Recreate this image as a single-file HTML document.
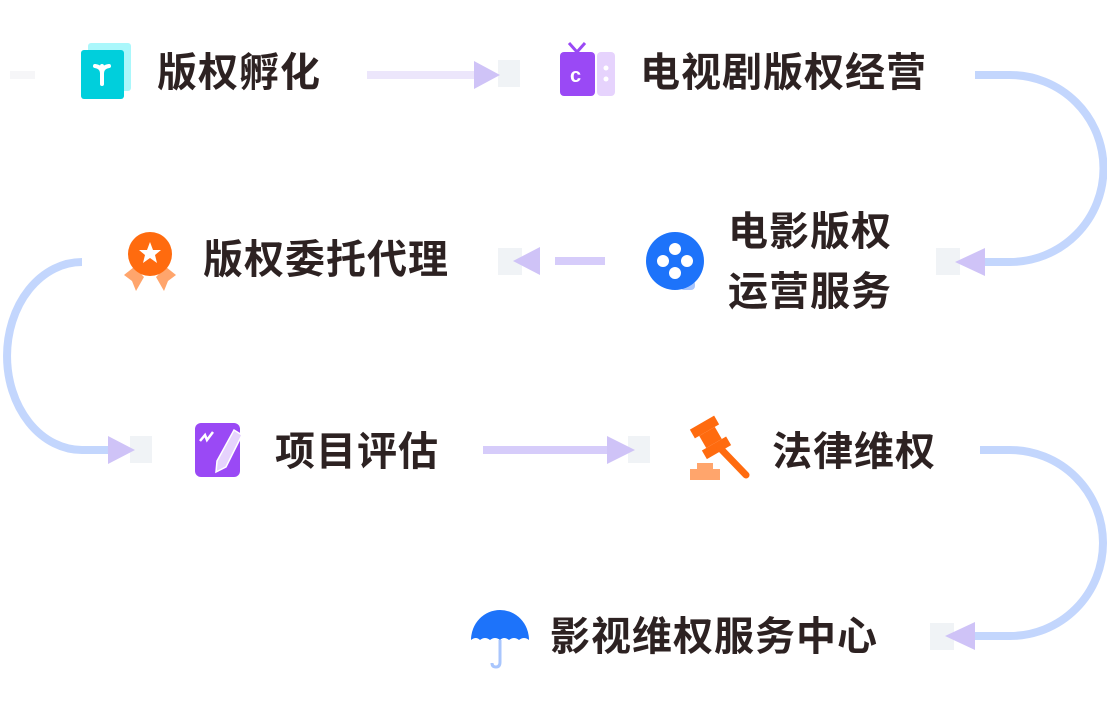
<!DOCTYPE html>
<html><head><meta charset="utf-8"><style>
body{margin:0;width:1107px;height:711px;background:#fff;position:relative;overflow:hidden;font-family:"Liberation Sans","Noto Sans CJK SC",sans-serif;}
.t{position:absolute;font-size:40px;font-weight:bold;color:#2d2222;line-height:1;white-space:nowrap;letter-spacing:1px}
svg{position:absolute;left:0;top:0}
</style></head><body>
<svg width="1107" height="711">
<!-- gray squares -->
<g fill="#f0f3f6">
<rect x="498" y="60" width="22" height="27"/>
<rect x="936" y="248" width="24" height="27"/>
<rect x="498" y="248" width="24" height="27"/>
<rect x="130" y="436" width="22" height="27"/>
<rect x="628" y="436" width="22" height="27"/>
<rect x="930" y="623" width="24" height="27"/>
</g>
<rect x="10" y="71" width="25" height="8" fill="#f6f6f8"/>
<!-- straight arrows -->
<line x1="367" y1="75" x2="478" y2="75" stroke="#ece6fb" stroke-width="8"/>
<polygon points="474,61 500,75 474,89" fill="#cfc3f7"/>
<line x1="555" y1="261" x2="605" y2="261" stroke="#d6ccfa" stroke-width="8"/>
<polygon points="540,247 513,261 540,275" fill="#cfc3f7"/>
<line x1="483" y1="450" x2="610" y2="450" stroke="#d6ccfa" stroke-width="8"/>
<polygon points="607,436 635,450 607,464" fill="#cfc3f7"/>
<!-- curves -->
<g fill="none" stroke="#c3d6fd" stroke-width="8">
<path d="M975,75 H1010 A93,93 0 0 1 1010,262 H980"/>
<path d="M82,262 A75,94 0 0 0 82,450 H110"/>
<path d="M980,450 H1010 A93,93 0 0 1 1010,636 H972"/>
</g>
<polygon points="985,248 955,262 985,276" fill="#cfc3f7"/>
<polygon points="108,436 135,450 108,464" fill="#cfc3f7"/>
<polygon points="975,622 945,636 975,650" fill="#cfc3f7"/>
<!-- icon1 -->
<rect x="88" y="43" width="43" height="48" rx="3" fill="#aaf7fb"/>
<rect x="81" y="50" width="43" height="49" rx="3" fill="#00cfdc"/>
<path d="M102,66 v18 M95,66 q7,1 7,7 q0-6 7-7" stroke="#fff" stroke-width="4" fill="none" stroke-linecap="round"/>
<!-- tv icon -->
<rect x="560" y="52" width="35" height="44" rx="4" fill="#9a49f5"/>
<rect x="597" y="52" width="18" height="44" rx="4" fill="#e6d3fd"/>
<path d="M577,52 l-8,-9 M577,52 l8,-9" stroke="#9a49f5" stroke-width="3"/>
<text x="570" y="82" font-size="20" font-weight="bold" fill="#fff" font-family="Liberation Sans">c</text>
<circle cx="606" cy="68" r="2.5" fill="#fff"/><circle cx="606" cy="79" r="2.5" fill="#fff"/>
<!-- film -->
<rect x="680" y="280" width="15" height="10" rx="4" fill="#a9c6fd"/>
<circle cx="675" cy="261" r="29" fill="#1d73fa"/>
<g fill="#fff"><circle cx="675" cy="249" r="6"/><circle cx="675" cy="273" r="6"/><circle cx="663" cy="261" r="6"/><circle cx="687" cy="261" r="6"/></g>
<!-- medal -->
<path d="M124,275 l10,-8 l10,10 l-8,14 l-4,-10 z M176,275 l-10,-8 l-10,10 l8,14 l4,-10 z" fill="#ffa56c"/>
<circle cx="150" cy="254" r="22" fill="#ff6b0f"/>
<polygon points="150,242 153,250 161,250 155,255 157,263 150,258 143,263 145,255 139,250 147,250" fill="#fff"/>
<!-- note -->
<rect x="195" y="423" width="45" height="54" rx="6" fill="#9a49f5"/>
<path d="M234,430 l8,5 l-16,32 l-10,5 l1,-11 z" fill="#e6d3fd" stroke="#fff" stroke-width="1.5"/>
<path d="M200,441 l5,-6 l2,5 l6,-8" stroke="#fff" stroke-width="2.5" fill="none"/>
<!-- gavel -->
<rect x="690" y="469" width="30" height="11" fill="#ffa56c"/>
<rect x="697" y="463" width="16" height="7" fill="#ffa56c"/>
<g transform="rotate(-30 712 440)">
<rect x="698" y="420" width="28" height="10" fill="#ff6b0f"/>
<rect x="698" y="444" width="28" height="10" fill="#ff6b0f"/>
<rect x="703" y="430" width="18" height="14" fill="#ff6b0f"/>
</g>
<line x1="720" y1="448" x2="746" y2="475" stroke="#ff6b0f" stroke-width="7" stroke-linecap="round"/>
<!-- umbrella -->
<path d="M471,640 A29,30 0 0 1 529,640 q-5,-4 -10,0 q-5,-4 -10,0 q-5,-4 -9,0 q-5,-4 -10,0 q-5,-4 -10,0 q-4,-4 -9,0 z" fill="#1d73fa"/>
<path d="M500,640 v22 q0,5 -4,5 q-4,0 -4,-4" stroke="#a9c6fd" stroke-width="3" fill="none"/>
</svg>
<div class="t" style="left:157px;top:53px">版权孵化</div>
<div class="t" style="left:640px;top:53px">电视剧版权经营</div>
<div class="t" style="left:728px;top:212px">电影版权</div>
<div class="t" style="left:728px;top:272px">运营服务</div>
<div class="t" style="left:203px;top:240px">版权委托代理</div>
<div class="t" style="left:275px;top:432px">项目评估</div>
<div class="t" style="left:772px;top:432px">法律维权</div>
<div class="t" style="left:550px;top:617px">影视维权服务中心</div>
</body></html>
